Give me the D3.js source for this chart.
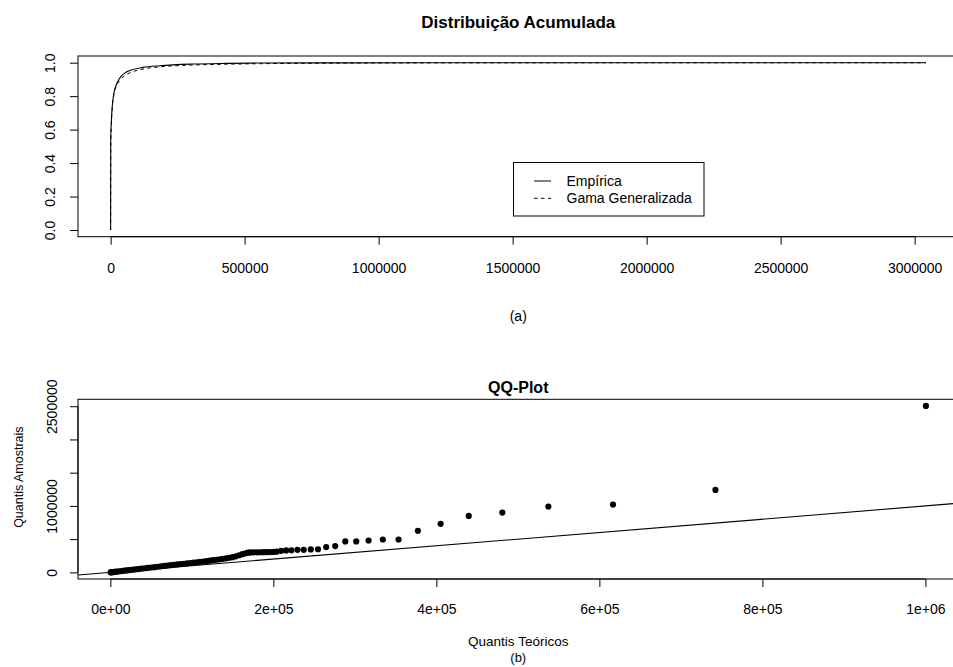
<!DOCTYPE html>
<html>
<head>
<meta charset="utf-8">
<script src="https://cdn.jsdelivr.net/npm/d3@7"></script>
<style>
  html, body { margin: 0; padding: 0; background: #fff; }
  svg { display: block; }
  text { font-family: "Liberation Sans", Arial, Helvetica, sans-serif; fill: #000; }
</style>
</head>
<body>
<svg id="chart" width="953" height="667"></svg>
<script>
// ---- (a) cumulative distribution: empirical vs fitted generalized gamma ----
const cdfX = [0, 500, 2500, 6200, 12400, 21000, 33600, 52000, 77000, 121000, 183000,
              307000, 432000, 556000, 800000, 1200000, 2000000, 3042000];
const cdfEmpirical = [0, 0.54, 0.64, 0.74, 0.82, 0.867, 0.907, 0.937, 0.956, 0.972, 0.982,
                      0.992, 0.996, 0.998, 0.999, 0.9995, 0.9998, 1];
const cdfGamma = [0, 0.5, 0.62, 0.73, 0.81, 0.857, 0.893, 0.922, 0.943, 0.962, 0.975,
                  0.986, 0.991, 0.994, 0.997, 0.999, 0.9998, 1];
const cdfXTicks = [0, 500000, 1000000, 1500000, 2000000, 2500000, 3000000];
const cdfYTicks = [0, 0.2, 0.4, 0.6, 0.8, 1.0];
const legendLabels = ["Empírica", "Gama Generalizada"];

// ---- (b) QQ-plot: theoretical vs sample quantiles ----
const qqTheoretical = [300, 1000, 2000, 3500, 5000, 7000, 9000, 11500, 14000, 17000,
  20000, 23000, 26500, 30000, 34000, 38000, 42000, 46000, 50000, 54000,
  58000, 62000, 66000, 70000, 74000, 78000, 82000, 86000, 90000, 94000,
  98000, 102000, 106000, 110000, 114000, 118000, 122000, 126000, 130000, 134000,
  138000, 142000, 146000, 150000, 154000, 158000, 162000, 166000, 169000, 172000,
  176000, 180000, 184000, 188000, 192000, 196000, 200000, 204000,
  209600, 215700, 222200, 229600, 237200, 245900, 254800, 264800, 275900, 288200,
  301700, 316800, 334300, 353600, 377300, 405200, 439700, 480900, 537400, 616700,
  742400, 1000600];
const qqSample = [500, 1500, 3000, 5000, 7500, 10500, 13500, 17000, 21000, 25000,
  29500, 34000, 39000, 44000, 50000, 56000, 62000, 67500, 73500, 79000,
  85000, 91000, 97000, 102500, 108000, 113500, 119000, 124500, 130000, 135500,
  141000, 147000, 152500, 158000, 164000, 170000, 176500, 183000, 190000, 197000,
  204000, 212000, 220000, 229000, 242000, 258000, 274000, 288000, 297000, 300000,
  301000, 302000, 303000, 304000, 305000, 306000, 308000, 312000,
  325000, 330000, 333000, 340000, 340000, 345000, 348000, 381000, 396000, 465000,
  465000, 480000, 495000, 495000, 625000, 730000, 850000, 900000, 990000, 1020000,
  1240000, 2504000];
const qqXTicks = [0, 200000, 400000, 600000, 800000, 1000000];
const qqXTickLabels = ["0e+00", "2e+05", "4e+05", "6e+05", "8e+05", "1e+06"];
const qqYTicks = [0, 500000, 1000000, 1500000, 2000000, 2500000];
const qqYTickLabels = ["0", "", "1000000", "", "", "2500000"];

const svg = d3.select("#chart");
const FS = 14;          // axis / label font size
const TICK = 8;         // outward tick length

// pad a numeric extent by 4% on each side
function padded(ext) {
  const d = (ext[1] - ext[0]) * 0.04;
  return [ext[0] - d, ext[1] + d];
}

const plotLeft = 78, plotRight = 958.5;
const midX = (plotLeft + plotRight) / 2;

// ================= panel (a) =================
const A = { top: 56, bottom: 236.7 };
const xA = d3.scaleLinear().domain(padded(d3.extent(cdfX))).range([plotLeft, plotRight]);
const yA = d3.scaleLinear().domain(padded([0, 1])).range([A.bottom, A.top]);

const gA = svg.append("g");

// x axis
const axAx = gA.append("g").attr("transform", `translate(0,${A.bottom})`)
  .call(d3.axisBottom(xA).tickValues(cdfXTicks).tickFormat(d3.format("d")).tickSize(TICK).tickSizeOuter(0));
axAx.select(".domain").remove();
axAx.selectAll("text").attr("y", 36.3).attr("dy", 0).style("font-size", FS + "px").style("font-family", null);
axAx.selectAll("line").attr("stroke", "#000");
axAx.append("line").attr("x1", xA(cdfXTicks[0])).attr("x2", xA(cdfXTicks[cdfXTicks.length - 1]))
  .attr("stroke", "#000");

// y axis
const ayA = gA.append("g").attr("transform", `translate(${plotLeft},0)`)
  .call(d3.axisLeft(yA).tickValues(cdfYTicks).tickFormat(d3.format(".1f")).tickSize(TICK).tickSizeOuter(0));
ayA.select(".domain").remove();
ayA.selectAll("line").attr("stroke", "#000");
ayA.selectAll("text")
  .attr("x", 0).attr("y", 0).attr("dy", 0)
  .attr("transform", "translate(-23,0) rotate(-90)")
  .attr("text-anchor", "middle")
  .style("font-size", FS + "px").style("font-family", null);

// curves
const lineA = (vals) => d3.line()
  .x((d, i) => xA(cdfX[i]))
  .y((d) => yA(d))
  .curve(d3.curveMonotoneX)(vals);

gA.append("path").attr("d", lineA(cdfGamma))
  .attr("fill", "none").attr("stroke", "#000").attr("stroke-width", 1)
  .attr("stroke-dasharray", "3.5,3.5");
gA.append("path").attr("d", lineA(cdfEmpirical))
  .attr("fill", "none").attr("stroke", "#000").attr("stroke-width", 1.1);

// box
gA.append("rect").attr("x", plotLeft).attr("y", A.top)
  .attr("width", plotRight - plotLeft).attr("height", A.bottom - A.top)
  .attr("fill", "none").attr("stroke", "#000");

// legend
const leg = gA.append("g");
leg.append("rect").attr("x", 513.5).attr("y", 162.5).attr("width", 190.5).attr("height", 53.5)
  .attr("fill", "#fff").attr("stroke", "#000");
const legRows = [181, 198.3];
legendLabels.forEach((lab, i) => {
  leg.append("line").attr("x1", 534).attr("x2", 551).attr("y1", legRows[i]).attr("y2", legRows[i])
    .attr("stroke", "#000").attr("stroke-dasharray", i === 1 ? "3.5,3.5" : null);
  leg.append("text").attr("x", 566.5).attr("y", legRows[i] + 5)
    .style("font-size", FS + "px").text(lab);
});

// titles
svg.append("text").attr("x", midX).attr("y", 28)
  .attr("text-anchor", "middle").style("font-size", "17px").style("font-weight", "bold")
  .text("Distribuição Acumulada");
svg.append("text").attr("x", midX).attr("y", 321)
  .attr("text-anchor", "middle").style("font-size", FS + "px").text("(a)");

// ================= panel (b) =================
const B = { top: 399.3, bottom: 579 };
const xB = d3.scaleLinear().domain(padded(d3.extent(qqTheoretical))).range([plotLeft, plotRight]);
const yB = d3.scaleLinear().domain(padded(d3.extent(qqSample))).range([B.bottom, B.top]);

const gB = svg.append("g");

const axBx = gB.append("g").attr("transform", `translate(0,${B.bottom})`)
  .call(d3.axisBottom(xB).tickValues(qqXTicks).tickFormat((d, i) => qqXTickLabels[i]).tickSize(TICK).tickSizeOuter(0));
axBx.select(".domain").remove();
axBx.selectAll("line").attr("stroke", "#000");
axBx.selectAll("text").attr("y", 35).attr("dy", 0).style("font-size", FS + "px").style("font-family", null);
axBx.append("line").attr("x1", xB(qqXTicks[0])).attr("x2", xB(qqXTicks[qqXTicks.length - 1]))
  .attr("stroke", "#000");

const ayB = gB.append("g").attr("transform", `translate(${plotLeft},0)`)
  .call(d3.axisLeft(yB).tickValues(qqYTicks).tickFormat((d, i) => qqYTickLabels[i]).tickSize(TICK).tickSizeOuter(0));
ayB.select(".domain").remove();
ayB.selectAll("line").attr("stroke", "#000");
ayB.append("line").attr("y1", yB(qqYTicks[0])).attr("y2", yB(qqYTicks[qqYTicks.length - 1]))
  .attr("stroke", "#000");
ayB.selectAll("text")
  .attr("x", 0).attr("y", 0).attr("dy", 0)
  .attr("transform", "translate(-21.5,0) rotate(-90)")
  .attr("text-anchor", "middle")
  .style("font-size", FS + "px").style("font-family", null);

// clip for reference line
svg.append("clipPath").attr("id", "clipB").append("rect")
  .attr("x", plotLeft).attr("y", B.top).attr("width", plotRight - plotLeft).attr("height", B.bottom - B.top);

// y = x reference line
const xd = xB.domain();
gB.append("line").attr("clip-path", "url(#clipB)")
  .attr("x1", xB(xd[0])).attr("y1", yB(xd[0]))
  .attr("x2", xB(xd[1])).attr("y2", yB(xd[1]))
  .attr("stroke", "#000").attr("stroke-width", 1.1);

// points
gB.selectAll("circle.pt").data(qqTheoretical).join("circle").attr("class", "pt")
  .attr("cx", (d) => xB(d))
  .attr("cy", (d, i) => yB(qqSample[i]))
  .attr("r", 3.1).attr("fill", "#000");

// box
gB.append("rect").attr("x", plotLeft).attr("y", B.top)
  .attr("width", plotRight - plotLeft).attr("height", B.bottom - B.top)
  .attr("fill", "none").attr("stroke", "#000");

// titles and axis labels
svg.append("text").attr("x", midX).attr("y", 392.5)
  .attr("text-anchor", "middle").style("font-size", "16px").style("font-weight", "bold")
  .text("QQ-Plot");
svg.append("text").attr("x", midX).attr("y", 646)
  .attr("text-anchor", "middle").style("font-size", "13.5px").text("Quantis Teóricos");
svg.append("text").attr("x", midX).attr("y", 662)
  .attr("text-anchor", "middle").style("font-size", "13px").text("(b)");
svg.append("text")
  .attr("transform", `translate(22.5,${(B.top + B.bottom) / 2 - 12}) rotate(-90)`)
  .attr("text-anchor", "middle").style("font-size", "12.5px").text("Quantis Amostrais");
</script>
</body>
</html>
